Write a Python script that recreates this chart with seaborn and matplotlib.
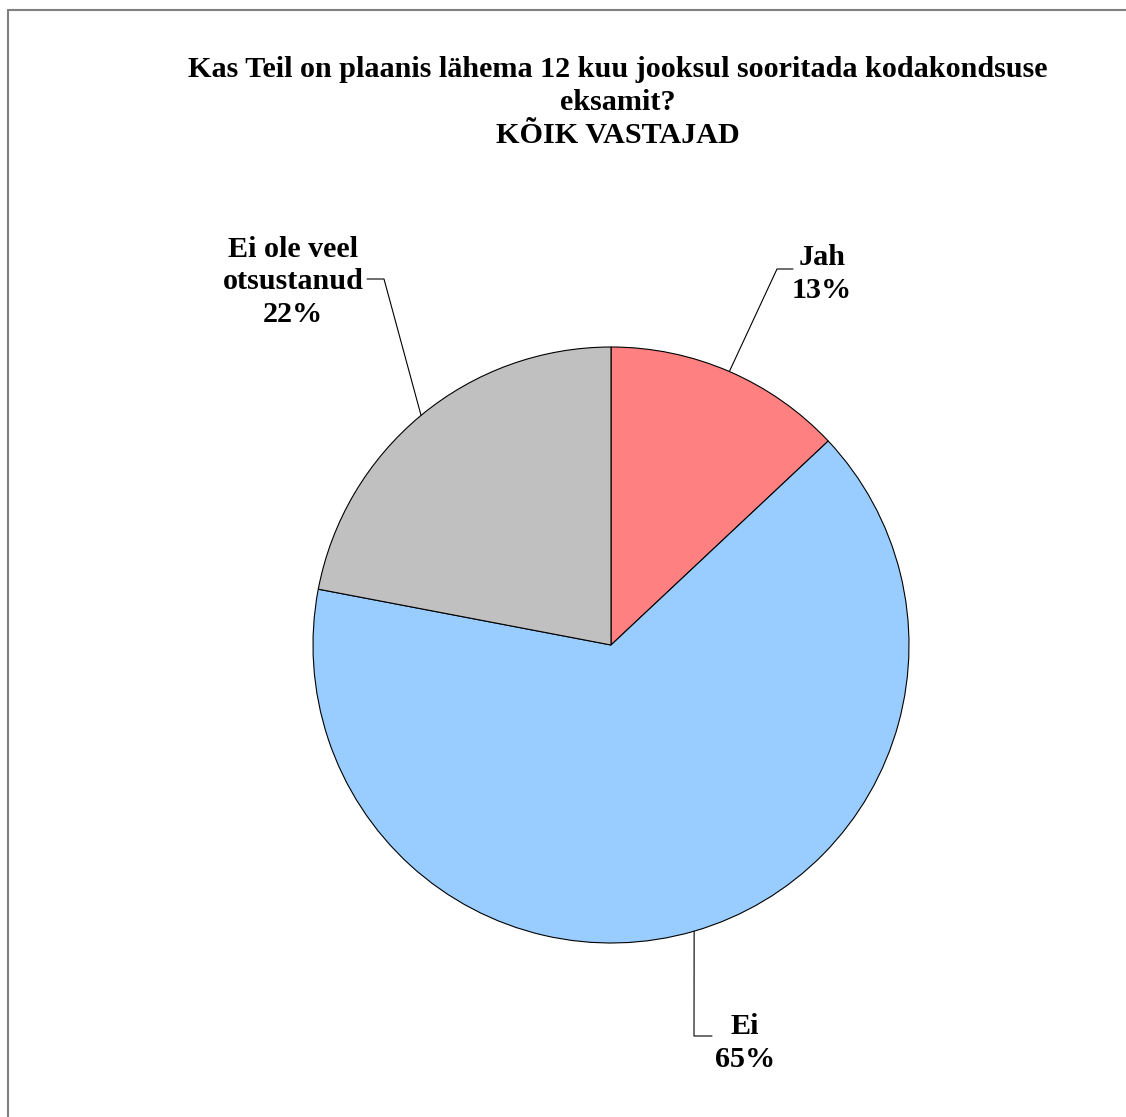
import matplotlib
matplotlib.use("Agg")
import matplotlib.pyplot as plt
import seaborn as sns
import numpy as np
from matplotlib.lines import Line2D

# ---------------- data ----------------
categories = ["Jah", "Ei", "Ei ole veel\notsustanud"]
shares = [13, 65, 22]
colors = ["#FF8080", "#99CCFF", "#C0C0C0"]
title = ("Kas Teil on plaanis lähema 12 kuu jooksul sooritada kodakondsuse\n"
         "eksamit?\nKÕIK VASTAJAD")

sns.set_theme(style="white")
plt.rcParams["font.family"] = ["Liberation Serif", "DejaVu Serif"]
plt.rcParams["text.color"] = "black"

W, H = 1126, 1117
fig = plt.figure(figsize=(W / 100, H / 100), dpi=100)
fig.patch.set_facecolor("white")

# pie centre / radius in pixels
cx, cy, r = 611, 645, 298
ax = fig.add_axes([0, 0, 1, 1])


def px(x, y):
    # pixel position -> data coordinates
    return (x - cx) / r, (cy - y) / r


wedges, _ = ax.pie(shares, colors=colors, startangle=90, counterclock=False,
                   radius=1, center=(0, 0), frame=True,
                   wedgeprops=dict(edgecolor="black", linewidth=0.8))
ax.set_xlim(-cx / r, (W - cx) / r)
ax.set_ylim(-(H - cy) / r, cy / r)
ax.axis("off")

# label text positions and leader elbows (pixels)
label_pos = [(822, 274), (745, 1043), (293, 282)]
elbows = [[(777, 269), (793, 269)],
          [(694, 1036), (712, 1036)],
          [(384, 279), (367, 279)]]

for w, cat, val, lp, elb in zip(wedges, categories, shares, label_pos, elbows):
    ang = np.deg2rad((w.theta1 + w.theta2) / 2)
    pts = [(np.cos(ang), np.sin(ang))] + [px(*p) for p in elb]
    xs, ys = zip(*pts)
    ax.plot(xs, ys, color="black", lw=0.8)
    ax.text(*px(*lp), f"{cat}\n{val}%", ha="center", va="center",
            fontsize=21.7, fontweight="bold", linespacing=1.28, color="black")

fig.text(618 / W, 1 - 56 / H, title, ha="center", va="top", color="black",
         fontsize=21.7, fontweight="bold", linespacing=1.28)

# grey frame edges (top and left)
fig.add_artist(Line2D([8 / W, 1], [1 - 10 / H, 1 - 10 / H], color="#808080", lw=1.5))
fig.add_artist(Line2D([8 / W, 8 / W], [0, 1 - 10 / H], color="#808080", lw=1.5))

fig.savefig("out.png", dpi=100, facecolor="white")
